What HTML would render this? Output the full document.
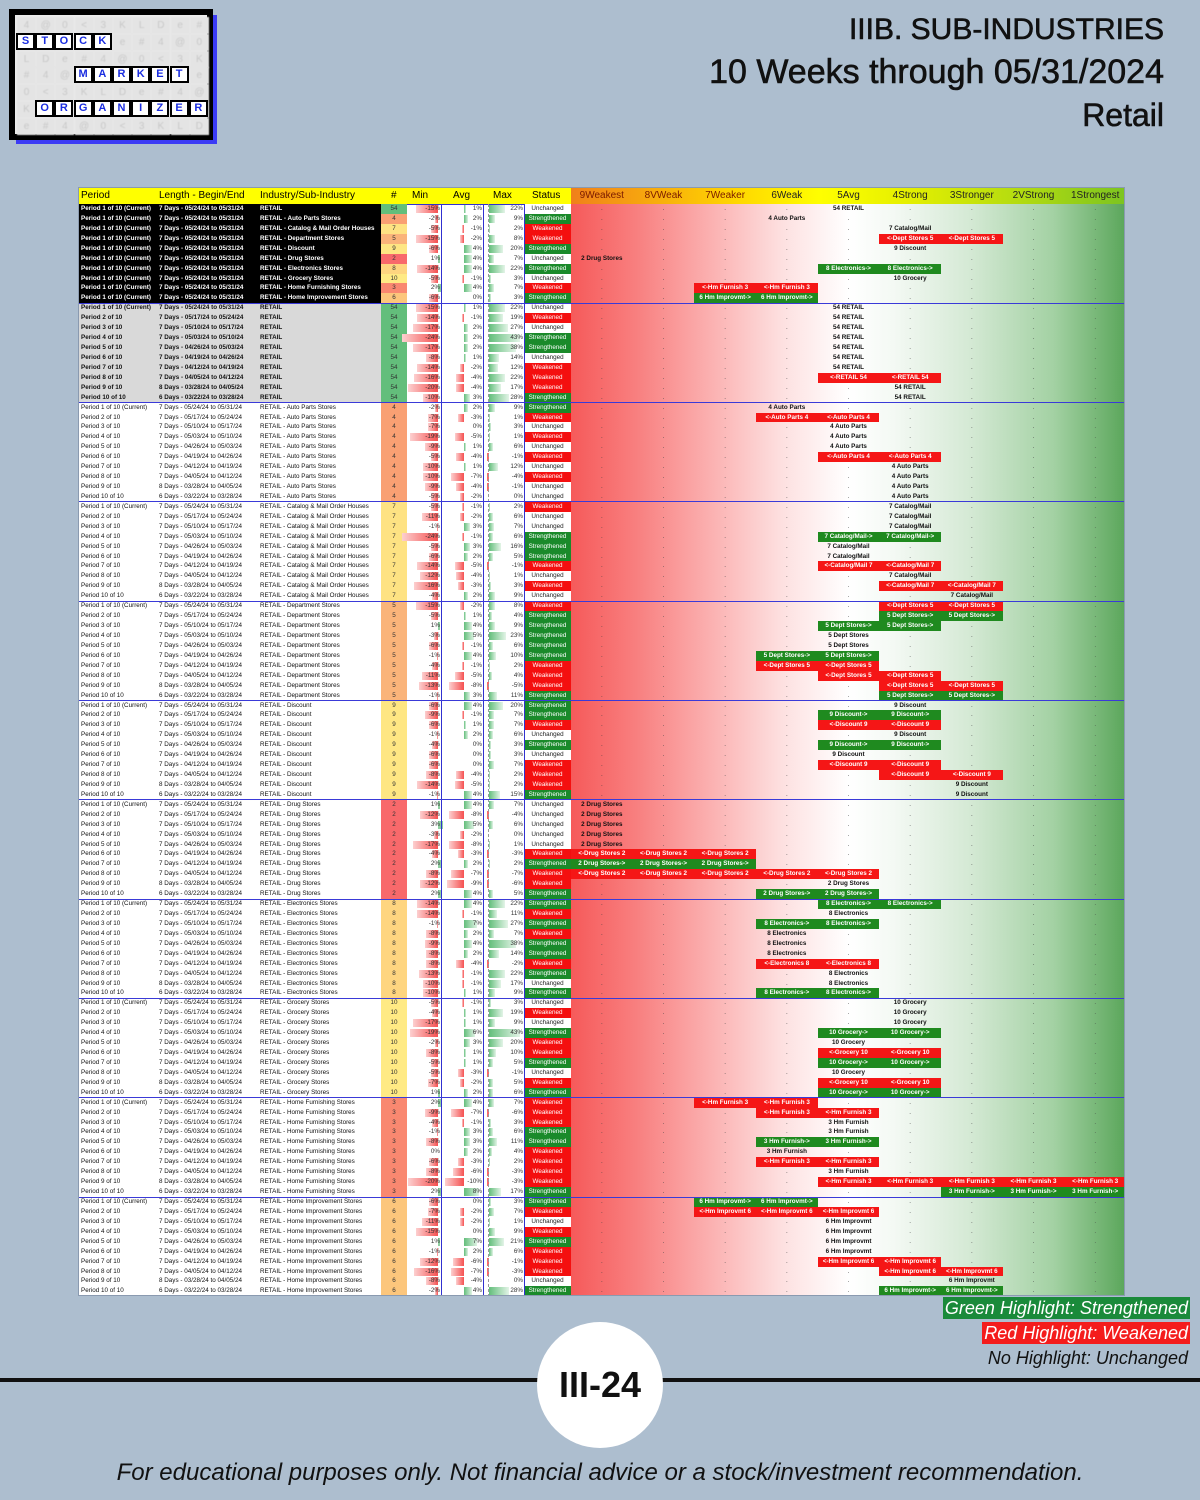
<!DOCTYPE html>
<html><head><meta charset="utf-8">
<style>
*{margin:0;padding:0;box-sizing:border-box}
body{width:1200px;height:1500px;background:#adbecf;position:relative;overflow:hidden;font-family:"Liberation Sans",sans-serif}
.abs{position:absolute}
#tbl{position:absolute;left:78px;top:187px;width:1047px;height:1109px;background:#fff;border:1px solid #8a9ab0;overflow:hidden}
.c{position:absolute;font-size:6.3px;line-height:9.9px;white-space:nowrap}
.hd{position:absolute;top:0;height:16px;font-size:10px;line-height:16px;white-space:nowrap}
.lg{position:absolute;right:10px;font-size:18px;font-style:italic;line-height:22px;padding:0 2px}
.cell{position:absolute;width:19px;height:17px;background:#fff;border:2px solid #000;color:#1a2de0;font-weight:bold;font-size:11px;text-align:center;line-height:13px}
.gcell{position:absolute;width:19px;height:17px;background:#e4e4e4;color:#c8c8c8;font-size:10px;text-align:center;line-height:17px;filter:blur(0.6px)}
</style></head>
<body>
<div class="abs" style="left:16px;top:15px;width:201px;height:129px;background:#3b3bf5"></div>
<div class="abs" style="left:9px;top:9px;width:204px;height:131px;background:#000;border:4px solid #000">
<div id="logo-inner" class="abs" style="left:2px;top:2px;width:192px;height:119px;background:#ececec"></div>
</div>
<div class="abs" style="right:36px;top:8px;text-align:right;color:#111;line-height:43px;-webkit-text-stroke:0.6px #111">
<div style="font-size:30px">IIIB. SUB-INDUSTRIES</div>
<div style="font-size:34px">10 Weeks through 05/31/2024</div>
<div style="font-size:32px">Retail</div>
</div>

<div id="tbl">
<div class="abs" style="left:0;top:0;width:492px;height:16px;background:#ffff00"></div>
<div class="abs" style="left:492px;top:0;width:555px;height:16px;background:linear-gradient(to right,#f0801a,#ffd700 30%,#ffff00 45%,#e6f000 60%,#b5dc10 80%,#7cc420)"></div>
<div class="abs" style="left:492px;top:16px;width:555px;height:1093px;background:linear-gradient(to right,#f65a5a 0%,#f88080 12%,#fbb0b0 25%,#fde0e0 38%,#fff 50%,#f4f9f4 58%,#d4e9d4 72%,#a3d1a3 87%,#5aa65a 100%)"></div>
</div>

<div class="lg" style="top:1297px;background:#1a8a3a;color:#fff">Green Highlight: Strengthened</div>
<div class="lg" style="top:1322px;background:#f41c1c;color:#fff">Red Highlight: Weakened</div>
<div class="lg" style="top:1347px;color:#111">No Highlight: Unchanged</div>
<div class="abs" style="left:0;top:1378px;width:1200px;height:4px;background:#111"></div>
<div class="abs" style="left:537px;top:1322px;width:126px;height:126px;border-radius:50%;background:#fff;text-align:center;line-height:126px;font-size:36px;font-weight:bold;color:#111">III-24</div>
<div class="abs" style="left:0;top:1459px;width:1200px;text-align:center;font-size:24px;font-style:italic;color:#111">For educational purposes only. Not financial advice or a stock/investment recommendation.</div>

<script>
const industries=["RETAIL","RETAIL - Auto Parts Stores","RETAIL - Catalog & Mail Order Houses","RETAIL - Department Stores","RETAIL - Discount","RETAIL - Drug Stores","RETAIL - Electronics Stores","RETAIL - Grocery Stores","RETAIL - Home Furnishing Stores","RETAIL - Home Improvement Stores"];
const shortNames=["RETAIL","Auto Parts","Catalog/Mail","Dept Stores","Discount","Drug Stores","Electronics","Grocery","Hm Furnish","Hm Improvmt"];
const counts=[54,4,7,5,9,2,8,10,3,6];
const countColors=["#63be7b","#f9a073","#fee283","#fab47a","#fee683","#f8696b","#fed580","#ffea84","#f98870","#fcc67c"];
const lengths=["7 Days - 05/24/24 to 05/31/24","7 Days - 05/17/24 to 05/24/24","7 Days - 05/10/24 to 05/17/24","7 Days - 05/03/24 to 05/10/24","7 Days - 04/26/24 to 05/03/24","7 Days - 04/19/24 to 04/26/24","7 Days - 04/12/24 to 04/19/24","7 Days - 04/05/24 to 04/12/24","8 Days - 03/28/24 to 04/05/24","6 Days - 03/22/24 to 03/28/24"];
const zoneHeaders=["9Weakest","8VWeak","7Weaker","6Weak","5Avg","4Strong","3Stronger","2VStrong","1Strongest"];
const minVals=[-15,-2,-5,-15,-6,1,-14,-5,2,-6,
-15,-14,-17,-24,-17,-8,-14,-16,-20,-10,
-2,-7,-7,-19,-9,-5,-10,-10,-9,-5,
-5,-11,-1,-24,-5,-6,-14,-12,-16,-4,
-15,-5,1,-3,-6,-1,-4,-11,-13,-1,
-6,-9,-6,-1,-4,-6,-6,-8,-14,-1,
1,-12,3,-3,-17,-4,2,-8,-12,2,
-14,-14,-1,-8,-9,-8,-8,-13,-10,-10,
-5,-4,-17,-19,-2,-8,-5,-5,-7,1,
2,-9,-4,-1,-8,0,-6,-8,-20,2,
-6,-7,-11,-15,1,-1,-12,-16,-8,-2];
const avgVals=[1,2,-1,-2,4,4,4,-1,4,0,
1,-1,2,2,2,1,-2,-4,-4,3,
2,-3,0,-5,1,-4,1,-7,-4,-2,
-1,-2,3,-1,3,2,-5,-4,-3,2,
-2,1,4,5,-1,4,-1,-5,-8,3,
4,-1,1,2,0,0,0,-4,-5,4,
4,-8,5,-2,-8,-3,2,-7,-9,4,
4,-1,7,2,4,2,-4,-1,-1,1,
-1,1,1,6,3,1,1,-3,-2,2,
4,-7,-1,3,3,2,-3,-6,-10,8,
0,-2,-2,0,7,2,-6,-7,-4,4];
const maxVals=[22,9,2,8,20,7,22,3,7,3,
22,19,27,43,38,14,12,22,17,28,
9,1,3,1,6,-1,12,-4,-1,0,
2,6,7,6,16,5,-1,1,3,9,
8,4,9,23,6,10,2,4,-5,11,
20,7,7,6,3,3,7,2,2,15,
7,-4,6,0,1,-3,2,-7,-6,5,
22,11,27,7,38,14,-2,22,17,9,
3,19,9,43,20,10,5,-1,5,6,
7,-6,3,6,11,4,2,-3,-3,17,
3,7,1,9,21,6,-1,-3,0,28];
const statusVals="USWWSUSUWS"+"UWUSSUWWWS"+"SWUWUWUWUU"+"WUUSSSWUWU"+"WSSSSSWWWS"+"SSWUSUWWWS"+"UUUUUWSWWS"+"SWSWSSWSUS"+"UWUSWWSUWS"+"WWWSSWWWWS"+"SWUWSWWWUS";
const zoneSpecs=["p4","p3","p5","r5-6","p5","p0","g4-5","p5","r2-3","g2-3",
"p4","p4","p4","p4","p4","p4","p4","r4-5","p5","p5",
"p3","r3-4","p4","p4","p4","r4-5","p5","p5","p5","p5",
"p5","p5","p5","g4-5","p4","p4","r4-5","p5","r5-6","p6",
"r5-6","g5-6","g4-5","p4","p4","g3-4","r3-4","r4-5","r5-6","g5-6",
"p5","g4-5","r4-5","p5","g4-5","p4","r4-5","r5-6","p6","p6",
"p0","p0","p0","p0","p0","r0-2","g0-2","r0-4","p4","g3-4",
"g4-5","p4","g3-4","p3","p3","p3","r3-4","p4","p4","g3-4",
"p5","p5","p5","g4-5","p4","r4-5","g4-5","p4","r4-5","g4-5",
"r2-3","r3-4","p4","p4","g3-4","p3","r3-4","p4","r4-8","g6-8",
"g2-3","r2-4","p4","p4","p4","p4","r4-5","r5-6","p6","g5-6"];

const T=document.getElementById('tbl');
const RH=9.93, TOP=16;
const ZX=492, ZW=61.67;
function mk(parent,css,text){const d=document.createElement('div');d.style.cssText=css;if(text!==undefined)d.textContent=text;parent.appendChild(d);return d;}
const hdrs=[["Period",2],["Length - Begin/End",80],["Industry/Sub-Industry",181],["#",312],["Min",333],["Avg",374],["Max",414],["Status",453]];
for(const h of hdrs){const e=mk(T,'left:'+h[1]+'px','');e.className='hd';e.textContent=h[0];

}
zoneHeaders.forEach((z,i)=>{const e=mk(T,'left:'+(ZX+i*ZW)+'px;width:'+ZW+'px;text-align:center;color:'+(i<3?'#7a1a00':'#222'),z);e.className='hd';

});
mk(T,'position:absolute;left:0;top:16px;width:460px;height:1px;background:#3030d0');
for(let r=0;r<110;r++){
  const g=r<10?-1:Math.floor((r-10)/10);
  const ind=g<0?r:g, per=g<0?0:(r-10)%10;
  const y=TOP+r*RH;
  const row=mk(T,'position:absolute;left:0;top:'+y+'px;width:1047px;height:'+RH+'px');
  
  
  const bg=g<0?'#000':(g===0?'#d9d9d9':'transparent');
  const fc=g<0?'#fff':'#111';
  const fw=g<=0?'bold':'normal';
  mk(row,'position:absolute;left:0;top:0;width:302px;height:100%;background:'+bg);
  const pt=per===0?'Period 1 of 10 (Current)':'Period '+(per+1)+' of 10';
  let e=mk(row,'left:2px;color:'+fc+';font-weight:'+fw,pt);e.className='c';
  e=mk(row,'left:80px;color:'+fc+';font-weight:'+fw,lengths[per]);e.className='c';
  e=mk(row,'left:181px;color:'+fc+';font-weight:'+fw,industries[ind]);e.className='c';
  e=mk(row,'left:302px;width:26px;height:100%;text-align:center;background:'+countColors[ind]+';color:#333',String(counts[ind]));e.className='c';
  const mn=minVals[r], mz=359;
  if(mn<0){mk(row,'position:absolute;top:1px;height:8px;left:'+(mz+mn*1.5)+'px;width:'+(-mn*1.5)+'px;background:linear-gradient(to right,#fcd0d0,#f55050)');}
  else if(mn>0){mk(row,'position:absolute;top:1px;height:8px;left:'+mz+'px;width:'+(mn*1.5)+'px;background:#8fd0a0');}
  e=mk(row,'left:328px;width:33px;text-align:right;color:#333',mn+'%');e.className='c';
  const av=avgVals[r], az=385;
  if(av<0){mk(row,'position:absolute;top:1px;height:8px;left:'+(az+av*1.9)+'px;width:'+(-av*1.9)+'px;background:linear-gradient(to right,#fcd0d0,#f55050)');}
  else if(av>0){mk(row,'position:absolute;top:1px;height:8px;left:'+az+'px;width:'+(av*1.9)+'px;background:linear-gradient(to right,#63be7b,#dff2e4)');}
  e=mk(row,'left:362px;width:41px;text-align:right;color:#333',av+'%');e.className='c';
  const mx=maxVals[r], xz=410;
  if(mx>0){mk(row,'position:absolute;top:1px;height:8px;left:'+xz+'px;width:'+(mx*0.72)+'px;background:linear-gradient(to right,#63be7b,#e3f4e7)');}
  else if(mx<0){mk(row,'position:absolute;top:1px;height:8px;left:'+(xz-2)+'px;width:2px;background:#f8696b');}
  e=mk(row,'left:404px;width:40px;text-align:right;color:#333',mx+'%');e.className='c';
  const st=statusVals[r];
  const sb=st==='S'?'#1a8a2a':(st==='W'?'#f40f0f':'#fff');
  const stxt=st==='S'?'Strengthened':(st==='W'?'Weakened':'Unchanged');
  e=mk(row,'left:445px;width:47px;height:100%;text-align:center;background:'+sb+';color:'+(st==='U'?'#222':'#fff'),stxt);e.className='c';
  
  
  const sp=zoneSpecs[r], tp=sp[0], parts=sp.slice(1).split('-').map(Number);
  const a=parts[0], b=parts.length>1?parts[1]:parts[0];
  for(let z=0;z<9;z++){
    if(z>=a&&z<=b){
      let txt, css;
      if(tp==='p'){txt=counts[ind]+' '+shortNames[ind];css='color:#111;font-weight:bold';}
      else if(tp==='g'){txt=counts[ind]+' '+shortNames[ind]+'->';css='background:#1f8a1f;color:#fff;font-weight:bold';}
      else {txt='<-'+shortNames[ind]+' '+counts[ind];css='background:#f51616;color:#fff;font-weight:bold';}
      e=mk(row,'left:'+(ZX+z*ZW)+'px;width:'+ZW+'px;height:100%;text-align:center;'+css,txt);e.className='c';
      
      
    } else {
      e=mk(row,'left:'+(ZX+z*ZW)+'px;width:'+ZW+'px;text-align:center;color:#444','.');e.className='c';
    }
  }
}
mk(T,'position:absolute;left:362px;top:16px;width:1px;height:1093px;background:#3030d0');
mk(T,'position:absolute;left:404px;top:16px;width:1px;height:1093px;background:#3030d0');
mk(T,'position:absolute;left:409px;top:16px;width:0;height:1093px;border-left:1px dashed #999');
mk(T,'position:absolute;left:445px;top:16px;width:1px;height:1093px;background:#3030d0');
for(let k=1;k<11;k++){const l=mk(T,'position:absolute;left:0;top:'+(TOP+k*10*RH-0.5)+'px;width:1047px;height:1px;background:#3a3ad8');

}
const L=document.getElementById('logo-inner');
const gch="4@0<3KLDe#";
for(let rr=0;rr<7;rr++)for(let cc=0;cc<10;cc++){const g=mk(L,'left:'+(2+cc*19.2)+'px;top:'+(2+rr*16.8)+'px',gch[(rr*3+cc)%10]);g.className='gcell';}
const words=[["STOCK",0,1],["MARKET",3,3],["ORGANIZER",1,5]];
for(const w of words){for(let i=0;i<w[0].length;i++){const c=mk(L,'left:'+(1+(w[1]+i)*19.2)+'px;top:'+(1+w[2]*16.8)+'px',w[0][i]);c.className='cell';

}}
</script>
</body></html>
